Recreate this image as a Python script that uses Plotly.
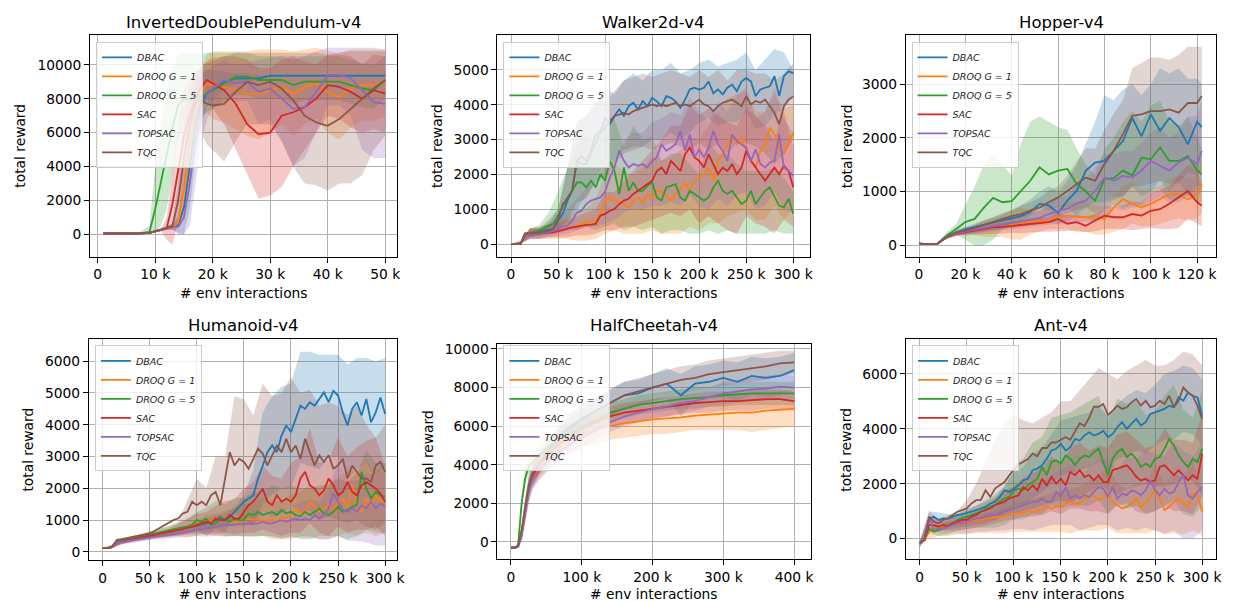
import plotly.graph_objects as go

W, H = 1235, 602
FONT = "DejaVu Sans"

SERIES_NAMES = ["DBAC", "DROQ <i>G</i> = 1", "DROQ <i>G</i> = 5", "SAC", "TOPSAC", "TQC"]
SERIES_COLORS = ["#1f77b4", "#ff7f0e", "#2ca02c", "#d62728", "#9467bd", "#8c564b"]
FILL_ALPHA = 0.25

# ---------------- InvertedDoublePendulum-v4 (x in thousands) ----------------
idp_x_k = [1, 3, 5, 7, 9, 10, 11, 12, 13, 14, 15, 16, 17, 18, 19, 20, 22, 24, 26, 28, 30, 32, 34, 36, 38, 40, 42, 44, 46, 48, 50]
idp_dbac = [60, 50, 50, 60, 100, 180, 280, 380, 450, 550, 1600, 4000, 6500, 7800, 8300, 8600, 9000, 9200, 9200, 9200, 9350, 9350, 9350, 9350, 9350, 9350, 9350, 9350, 9350, 9350, 9350]
idp_dbac_lo = [40, 30, 30, 40, 70, 120, 200, 280, 300, 100, 0, 1500, 4500, 6500, 7500, 7900, 8500, 8900, 9000, 9100, 9350, 9350, 9350, 9350, 9350, 9350, 9350, 9350, 9350, 9350, 9350]
idp_dbac_hi = [80, 70, 70, 80, 130, 240, 360, 480, 600, 1000, 3200, 6500, 8500, 9500, 9700, 9700, 9600, 9500, 9500, 9400, 9350, 9350, 9350, 9350, 9350, 9350, 9350, 9350, 9350, 9350, 9350]
idp_droq1 = [60, 50, 50, 60, 100, 180, 280, 380, 450, 700, 2600, 5000, 7200, 8300, 8900, 8800, 8700, 8500, 8300, 8300, 8500, 8700, 8300, 8700, 8900, 8400, 8100, 8600, 8800, 8800, 8900]
idp_droq1_lo = [40, 30, 30, 40, 70, 120, 200, 280, 300, 300, 1000, 2500, 5000, 6800, 7200, 6800, 6600, 6200, 5800, 5600, 6000, 6500, 5800, 6500, 6800, 6000, 5600, 6300, 6700, 6700, 6900]
idp_droq1_hi = [80, 70, 70, 80, 130, 240, 360, 480, 600, 1100, 4200, 7500, 9400, 9900, 10600, 10800, 10800, 10800, 10800, 10900, 10900, 10900, 10800, 10900, 11000, 10800, 10700, 10900, 10900, 10900, 10900]
idp_droq5 = [60, 50, 50, 60, 150, 1500, 3100, 4800, 6300, 7600, 8000, 7950, 8200, 8100, 8300, 8500, 8900, 9300, 9300, 9100, 9100, 9100, 8800, 9000, 9000, 9000, 9000, 8800, 8600, 8500, 9100]
idp_droq5_lo = [40, 30, 30, 40, 80, 200, 500, 1500, 3500, 5600, 6500, 6300, 6800, 7000, 7200, 7400, 7800, 8200, 8200, 8000, 8000, 8000, 7700, 7900, 7900, 7900, 7900, 7700, 7500, 7400, 8000]
idp_droq5_hi = [80, 70, 70, 80, 500, 4000, 6500, 8500, 9800, 10600, 10700, 10700, 10700, 10600, 10700, 10700, 10700, 10700, 10700, 10500, 10500, 10500, 10300, 10500, 10500, 10500, 10500, 10300, 10100, 10000, 10500]
idp_sac = [60, 50, 50, 60, 100, 180, 280, 380, 1800, 3800, 5800, 7000, 8000, 8700, 9100, 8900, 8500, 7700, 6500, 5900, 6000, 7000, 7200, 7500, 8000, 8800, 8700, 8400, 8000, 8500, 8300]
idp_sac_lo = [40, 30, 30, 40, 70, 120, 200, -300, -600, 800, 3000, 5000, 6800, 7500, 8000, 7400, 6500, 5000, 3600, 2100, 2300, 2800, 4000, 5000, 6000, 7000, 6800, 6300, 6000, 6200, 6000]
idp_sac_hi = [80, 70, 70, 80, 130, 240, 360, 1000, 3600, 6500, 8600, 9000, 9300, 9900, 10200, 10400, 10500, 10500, 10300, 9800, 9800, 10300, 10500, 10200, 10000, 10600, 10600, 10500, 10000, 10600, 10500]
idp_topsac = [60, 50, 50, 60, 100, 180, 280, 380, 450, 450, 1000, 3000, 5500, 7500, 8200, 8600, 9100, 8900, 9000, 8400, 8600, 8000, 7400, 7500, 8400, 9400, 9400, 9200, 8500, 7800, 7700]
idp_topsac_lo = [40, 30, 30, 40, 70, 120, 200, 280, 300, 0, 0, 500, 3000, 5500, 6800, 7400, 8000, 7800, 7900, 6500, 6800, 5500, 4000, 4500, 6000, 7600, 7600, 7000, 5000, 4500, 4500]
idp_topsac_hi = [80, 70, 70, 80, 130, 240, 360, 480, 600, 800, 2200, 5500, 8000, 9500, 9700, 9900, 10300, 10000, 10100, 10300, 10400, 10500, 10500, 10500, 10800, 11000, 11000, 11000, 11000, 11000, 10900]
idp_tqc = [60, 50, 50, 60, 100, 180, 280, 380, 500, 2000, 4500, 6500, 7800, 7900, 7700, 7600, 7700, 8400, 9000, 8800, 9000, 8600, 7900, 7000, 6600, 6400, 6800, 7400, 8000, 8600, 9100]
idp_tqc_lo = [40, 30, 30, 40, 70, 120, 200, 280, 300, 800, 2500, 4500, 6000, 6000, 5300, 5000, 4300, 5500, 6500, 6500, 6500, 5500, 4000, 3000, 2900, 2600, 3000, 3000, 3500, 5000, 5800]
idp_tqc_hi = [80, 70, 70, 80, 130, 240, 360, 480, 700, 3200, 6500, 8500, 9600, 9800, 10100, 10200, 10500, 10700, 10700, 10700, 10700, 10700, 10700, 10700, 10700, 10600, 10700, 10800, 10800, 10800, 10800]

# ---------------- Walker2d-v4 ----------------
# band x (10 k steps) and mean-curve x (5 k steps)
walker_x_k = [0, 10, 20, 30, 40, 50, 60, 70, 80, 90, 100, 110, 120, 130, 140, 150, 160, 170, 180, 190, 200, 210, 220, 230, 240, 250, 260, 270, 280, 290, 300]
walker_xm_k = [0, 5, 10, 15, 20, 25, 30, 35, 40, 45, 50, 55, 60, 65, 70, 75, 80, 85, 90, 95, 100, 105, 110, 115, 120, 125, 130, 135, 140, 145, 150, 155, 160, 165, 170, 175, 180, 185, 190, 195, 200, 205, 210, 215, 220, 225, 230, 235, 240, 245, 250, 255, 260, 265, 270, 275, 280, 285, 290, 295, 300]
walker_dbac = [0, 0, 0, 300, 320, 350, 350, 380, 400, 430, 680, 870, 1250, 1530, 2390, 2300, 2300, 2600, 2900, 3200, 3630, 3440, 3680, 3870, 3680, 3960, 4060, 3870, 4110, 3960, 4200, 4100, 3960, 4250, 4200, 4100, 3910, 4150, 4440, 4490, 4440, 4490, 4670, 4330, 4440, 4300, 4490, 4580, 4390, 4670, 4770, 4670, 4250, 4440, 4490, 4530, 4820, 4250, 4820, 4960, 4910]
walker_dbac_lo = [0, 20, 200, 250, 300, 400, 600, 1000, 1400, 1800, 2400, 2400, 2700, 2800, 2800, 3000, 3000, 3200, 3000, 3200, 3500, 3600, 3400, 3500, 3500, 3800, 3300, 3400, 3700, 3900, 4200]
walker_dbac_hi = [0, 80, 450, 450, 600, 1000, 2200, 3500, 3700, 4000, 4500, 4300, 4700, 4900, 4700, 5000, 5000, 5200, 4900, 5000, 5200, 5300, 5100, 5200, 5300, 5500, 5000, 5300, 5600, 5500, 5000]
walker_droq1 = [0, 0, 0, 300, 300, 310, 320, 330, 340, 360, 380, 400, 420, 480, 530, 580, 630, 650, 680, 870, 1250, 1340, 1250, 1200, 1150, 1060, 1250, 1340, 1200, 1440, 1340, 1530, 1500, 1400, 1250, 1440, 1580, 1770, 1530, 1820, 1910, 2010, 2200, 1820, 2390, 2580, 2870, 3150, 2870, 3050, 2680, 2390, 2200, 2680, 2870, 3340, 3150, 2770, 2580, 2870, 3200]
walker_droq1_lo = [0, 20, 150, 150, 150, 150, 150, 100, 100, 150, 300, 400, 300, 300, 300, 400, 300, 300, 300, 500, 400, 600, 600, 800, 900, 1000, 700, 700, 1100, 700, 1000]
walker_droq1_hi = [0, 80, 450, 450, 550, 700, 800, 900, 1000, 1300, 2000, 2300, 2100, 2000, 2200, 2500, 2400, 2500, 2700, 3100, 3000, 3400, 3800, 4200, 4300, 4400, 3800, 3800, 4300, 3900, 4000]
walker_droq5 = [0, 0, 0, 300, 310, 350, 390, 440, 530, 580, 820, 1060, 1340, 1530, 1770, 1770, 1630, 1820, 1630, 2010, 1820, 2390, 2100, 1440, 2200, 1530, 1770, 1530, 1530, 1680, 1770, 1340, 1250, 1630, 1680, 1720, 1340, 1250, 1530, 1440, 1340, 1250, 1340, 1630, 1820, 1530, 1440, 1530, 1340, 1150, 1250, 1530, 1150, 1340, 1530, 1630, 1340, 1100, 1060, 1300, 870]
walker_droq5_lo = [0, 20, 200, 200, 250, 300, 400, 400, 500, 400, 500, 600, 400, 500, 400, 500, 300, 400, 400, 300, 300, 400, 300, 400, 300, 300, 300, 300, 400, 300, 300]
walker_droq5_hi = [0, 80, 450, 550, 900, 1500, 2200, 2800, 3200, 2800, 3400, 3600, 2800, 3400, 3000, 3100, 2400, 2600, 2600, 2300, 2000, 2900, 2600, 2600, 2300, 2100, 2100, 2100, 2200, 1900, 1500]
walker_sac = [0, 0, 0, 250, 270, 290, 300, 320, 330, 340, 380, 420, 440, 480, 500, 530, 550, 560, 580, 820, 870, 960, 1010, 1150, 1250, 1300, 1440, 1530, 1630, 1720, 1820, 2100, 2200, 2010, 2390, 2250, 2100, 2580, 2770, 2490, 2390, 2200, 2580, 2300, 2010, 2200, 2100, 2300, 2010, 2200, 2680, 2390, 2200, 2010, 1820, 2010, 2200, 2010, 2250, 2100, 1630]
walker_sac_lo = [0, 20, 150, 150, 200, 200, 200, 250, 250, 300, 400, 400, 500, 500, 600, 700, 800, 900, 800, 1000, 600, 800, 600, 400, 300, 800, 600, 500, 300, 700, 500]
walker_sac_hi = [0, 80, 450, 500, 550, 600, 700, 800, 900, 1000, 1500, 1500, 1800, 2100, 2400, 2700, 3000, 3400, 3400, 4000, 3700, 3900, 3700, 3500, 3400, 3900, 3700, 3400, 3000, 3800, 2800]
walker_topsac = [0, 0, 0, 250, 260, 280, 300, 320, 350, 380, 440, 500, 530, 680, 910, 960, 1150, 1250, 1300, 1340, 1500, 1910, 2200, 2680, 2390, 2200, 2300, 2250, 2300, 2200, 2390, 2490, 2870, 2680, 2770, 2870, 3250, 2680, 3150, 2490, 2720, 2490, 2770, 3250, 2870, 2680, 2390, 3150, 2960, 2870, 2770, 2390, 2720, 2300, 2200, 2340, 2390, 3150, 2200, 2100, 1960]
walker_topsac_lo = [0, 20, 150, 150, 200, 250, 300, 400, 500, 500, 600, 700, 900, 1000, 1000, 1100, 1100, 1200, 1100, 1400, 1100, 1000, 1300, 1100, 1400, 1500, 1000, 1100, 1500, 1000, 900]
walker_topsac_hi = [0, 80, 350, 450, 600, 800, 1000, 1300, 1600, 1800, 2300, 2400, 3000, 3200, 3200, 3500, 3600, 3800, 3700, 4200, 3800, 3500, 4100, 3800, 4300, 4500, 3600, 3800, 4500, 3600, 3200]
walker_tqc = [0, 0, 0, 300, 300, 320, 330, 350, 380, 450, 700, 1150, 1300, 1530, 2390, 2530, 2390, 2680, 3150, 3250, 3340, 3530, 3680, 3720, 3770, 3720, 3820, 3870, 3910, 3960, 4010, 3960, 4010, 3960, 4010, 4060, 3960, 4010, 3960, 4060, 4150, 4010, 3960, 3820, 3960, 4060, 4110, 4150, 4060, 3960, 4250, 4010, 4110, 4060, 4150, 3960, 3770, 3440, 3960, 4150, 4250]
walker_tqc_lo = [0, 20, 200, 250, 300, 400, 700, 1200, 1300, 1800, 1900, 2300, 2600, 2700, 2800, 2700, 2800, 2900, 2800, 2700, 2900, 2700, 2900, 2600, 2900, 2900, 2800, 2600, 2300, 2600, 3000]
walker_tqc_hi = [0, 80, 450, 450, 700, 1000, 2200, 3500, 3700, 4100, 4100, 4400, 4700, 4800, 4900, 4800, 4900, 5000, 4900, 4800, 5000, 4800, 5000, 4700, 5000, 5000, 4900, 4900, 4700, 4900, 5200]

# ---------------- Hopper-v4 ----------------
hopper_x_k = [0, 4, 8, 12, 16, 20, 24, 28, 32, 36, 40, 44, 48, 52, 56, 60, 64, 68, 72, 76, 80, 84, 88, 92, 96, 100, 104, 108, 112, 116, 120, 122]
hopper_dbac = [30, 20, 30, 150, 230, 300, 340, 380, 420, 460, 500, 540, 620, 770, 740, 600, 830, 1010, 1390, 1540, 1570, 1760, 1940, 2370, 2030, 2440, 2130, 2370, 2200, 1880, 2300, 2200]
hopper_dbac_lo = [20, 10, 20, 120, 180, 200, 220, 250, 280, 300, 320, 350, 380, 400, 420, 400, 450, 550, 700, 800, 800, 900, 900, 1100, 900, 1000, 1200, 1000, 1200, 900, 1100, 1100]
hopper_dbac_hi = [40, 30, 40, 180, 280, 320, 380, 450, 520, 600, 650, 750, 850, 1000, 1100, 1000, 1200, 1500, 1900, 2300, 2800, 2700, 2900, 3000, 2800, 3000, 3300, 3200, 3300, 3100, 3100, 3000]
hopper_droq1 = [30, 20, 30, 150, 220, 250, 280, 300, 320, 350, 380, 410, 430, 450, 460, 520, 550, 530, 520, 540, 490, 700, 860, 770, 700, 770, 860, 950, 950, 850, 950, 1140]
hopper_droq1_lo = [20, 10, 20, 120, 180, 200, 200, 150, 150, 150, 100, 100, 200, 250, 300, 300, 300, 250, 250, 200, 200, 250, 300, 400, 350, 350, 400, 450, 500, 450, 500, 600]
hopper_droq1_hi = [40, 30, 40, 180, 260, 300, 360, 450, 500, 550, 650, 700, 640, 650, 700, 740, 800, 790, 800, 760, 700, 950, 1100, 1200, 1050, 1050, 1100, 1250, 1300, 1250, 1300, 1600]
hopper_droq5 = [30, 20, 30, 180, 300, 430, 490, 700, 880, 800, 820, 1010, 1200, 1450, 1320, 1390, 1420, 1140, 1000, 830, 1230, 1250, 1390, 1300, 1630, 1600, 1820, 1570, 1570, 1660, 1400, 1320]
hopper_droq5_lo = [20, 10, 20, 150, 200, 100, 0, 0, 100, 300, 350, 450, 550, 700, 650, 700, 700, 550, 500, 450, 650, 750, 700, 750, 750, 1000, 1050, 850, 850, 950, 800, 800]
hopper_droq5_hi = [40, 30, 40, 250, 400, 750, 1100, 1500, 1700, 1500, 1300, 1900, 2300, 2400, 2300, 2200, 2150, 1800, 1500, 1300, 1800, 2000, 2300, 2500, 2300, 2600, 2700, 2300, 2200, 2400, 2000, 1800]
hopper_sac = [30, 20, 30, 150, 210, 240, 270, 300, 330, 340, 360, 380, 400, 420, 430, 490, 400, 430, 360, 460, 550, 520, 520, 580, 550, 640, 670, 770, 890, 1010, 800, 740]
hopper_sac_lo = [20, 10, 20, 120, 170, 190, 200, 200, 210, 220, 230, 220, 230, 250, 250, 250, 260, 270, 240, 260, 300, 300, 300, 280, 300, 320, 300, 300, 320, 500, 400, 350]
hopper_sac_hi = [40, 30, 40, 180, 250, 290, 320, 360, 390, 420, 430, 440, 470, 510, 510, 620, 540, 570, 520, 580, 760, 700, 740, 820, 800, 980, 1040, 1100, 1300, 1500, 1400, 1100]
hopper_topsac = [30, 20, 30, 150, 220, 260, 290, 320, 350, 380, 420, 450, 480, 510, 580, 640, 680, 780, 830, 1010, 1260, 1200, 1290, 1260, 1390, 1570, 1480, 1390, 1540, 1630, 1510, 1760]
hopper_topsac_lo = [20, 10, 20, 120, 180, 210, 230, 250, 270, 290, 310, 330, 350, 360, 380, 400, 420, 430, 440, 450, 500, 700, 650, 700, 700, 800, 900, 800, 800, 900, 900, 1000]
hopper_topsac_hi = [40, 30, 40, 180, 260, 310, 350, 390, 430, 470, 530, 570, 610, 640, 780, 880, 940, 1100, 1200, 1450, 1700, 1700, 1750, 1750, 1900, 2100, 2200, 2000, 2100, 2400, 2400, 2700]
hopper_tqc = [30, 20, 30, 150, 240, 270, 320, 380, 440, 490, 540, 580, 650, 700, 800, 890, 1010, 1140, 1260, 1200, 1510, 1760, 2070, 2410, 2440, 2500, 2500, 2530, 2470, 2650, 2650, 2780]
hopper_tqc_lo = [20, 10, 20, 120, 190, 220, 240, 270, 290, 320, 350, 380, 400, 420, 480, 500, 600, 650, 700, 600, 750, 850, 900, 1100, 1100, 1150, 1200, 1150, 1150, 1350, 1300, 1400]
hopper_tqc_hi = [40, 30, 40, 180, 290, 340, 400, 470, 510, 580, 650, 720, 800, 880, 1020, 1100, 1300, 1550, 1800, 1800, 2150, 2450, 2700, 3300, 3400, 3500, 3500, 3450, 3550, 3700, 3700, 3700]

# ---------------- Humanoid-v4 ----------------
humanoid_x_k = [0, 10, 20, 30, 40, 50, 60, 70, 80, 90, 100, 110, 120, 130, 140, 150, 160, 170, 180, 190, 200, 210, 220, 230, 240, 250, 260, 270, 280, 290, 300]
humanoid_xm_k = [0, 5, 10, 15, 20, 25, 30, 35, 40, 45, 50, 55, 60, 65, 70, 75, 80, 85, 90, 95, 100, 105, 110, 115, 120, 125, 130, 135, 140, 145, 150, 155, 160, 165, 170, 175, 180, 185, 190, 195, 200, 205, 210, 215, 220, 225, 230, 235, 240, 245, 250, 255, 260, 265, 270, 275, 280, 285, 290, 295, 300]
humanoid_dbac = [120, 120, 150, 300, 330, 360, 400, 430, 460, 490, 520, 550, 580, 610, 640, 670, 700, 730, 760, 790, 820, 860, 900, 950, 1000, 1100, 1000, 1100, 1260, 1420, 1580, 1680, 1780, 2300, 2720, 3140, 3350, 3140, 3660, 3980, 3770, 4190, 4600, 4500, 4710, 4600, 4810, 5020, 4710, 5070, 4920, 4390, 3980, 4500, 4710, 4290, 4810, 4080, 4390, 4860, 4340]
humanoid_dbac_lo = [100, 120, 250, 320, 380, 420, 460, 500, 540, 580, 650, 680, 750, 780, 800, 800, 900, 1500, 1800, 2000, 2000, 2800, 2700, 2600, 3000, 3000, 2300, 2600, 2800, 2400, 2700]
humanoid_dbac_hi = [140, 180, 350, 440, 520, 580, 640, 700, 760, 820, 950, 1020, 1150, 1220, 1400, 1800, 2600, 4400, 4900, 5200, 5300, 6300, 6300, 6200, 6200, 6200, 5900, 6100, 6100, 6000, 6100]
humanoid_droq1 = [120, 120, 150, 300, 320, 350, 380, 410, 440, 470, 500, 530, 560, 590, 620, 650, 690, 720, 760, 800, 950, 900, 1000, 950, 1050, 1000, 1000, 950, 950, 900, 1000, 1050, 1000, 1050, 1000, 950, 1050, 950, 1110, 1050, 1160, 1370, 1210, 1260, 1580, 1420, 1260, 1370, 1470, 1260, 1580, 1680, 1370, 2100, 1470, 1260, 1680, 1470, 1780, 1580, 1580]
humanoid_droq1_lo = [100, 120, 250, 320, 380, 420, 450, 480, 500, 450, 500, 550, 500, 500, 500, 500, 450, 500, 400, 400, 400, 500, 500, 400, 400, 500, 600, 500, 600, 500, 600]
humanoid_droq1_hi = [140, 180, 350, 440, 520, 580, 650, 720, 800, 850, 1000, 1150, 1200, 1300, 1400, 1500, 1550, 1700, 1600, 1600, 1800, 1900, 2100, 2000, 2200, 2300, 2600, 2500, 2900, 2500, 2800]
humanoid_droq5 = [120, 120, 180, 350, 380, 400, 430, 450, 480, 510, 540, 570, 600, 630, 660, 690, 720, 760, 800, 850, 1000, 950, 1050, 850, 900, 1050, 1000, 950, 1050, 1000, 1000, 1210, 1160, 1260, 1160, 1210, 1260, 1160, 1320, 1210, 1260, 1160, 1120, 1260, 1160, 1260, 1370, 1210, 1160, 1260, 1420, 1260, 1320, 1420, 1470, 2520, 1990, 1680, 1890, 1780, 1730]
humanoid_droq5_lo = [100, 150, 300, 350, 420, 450, 480, 500, 500, 550, 550, 600, 600, 500, 500, 500, 500, 500, 500, 400, 500, 400, 400, 500, 500, 500, 400, 500, 700, 600, 600]
humanoid_droq5_hi = [140, 210, 400, 490, 580, 650, 720, 800, 900, 1050, 1250, 1400, 1600, 1500, 1700, 1700, 1900, 1900, 2100, 2000, 2100, 2000, 2000, 2100, 2100, 2300, 2200, 2500, 3200, 2800, 2800]
humanoid_sac = [120, 120, 150, 280, 320, 350, 370, 400, 430, 470, 500, 530, 560, 590, 620, 650, 690, 720, 760, 790, 850, 900, 950, 900, 1050, 1000, 1000, 1160, 1050, 1050, 1260, 1470, 1580, 1780, 1990, 1580, 1470, 1780, 1580, 1680, 1580, 1780, 2310, 2520, 2100, 1990, 1780, 1940, 2310, 2100, 1780, 1890, 2200, 1890, 1780, 2100, 2200, 2100, 1990, 1840, 1580]
humanoid_sac_lo = [100, 120, 250, 300, 350, 400, 450, 480, 520, 550, 600, 550, 550, 600, 550, 600, 600, 700, 600, 500, 600, 600, 900, 600, 500, 800, 600, 700, 700, 800, 500]
humanoid_sac_hi = [140, 180, 350, 400, 490, 560, 650, 720, 880, 1050, 1200, 1250, 1450, 1600, 1650, 2000, 2200, 2700, 2400, 2300, 2800, 3000, 3900, 2800, 2900, 3600, 3000, 3300, 3500, 3600, 2700]
humanoid_topsac = [120, 120, 150, 280, 310, 330, 350, 370, 400, 430, 450, 470, 500, 520, 540, 560, 590, 610, 630, 660, 690, 710, 740, 760, 790, 820, 850, 850, 850, 880, 900, 880, 900, 900, 950, 900, 900, 950, 1000, 950, 1000, 1050, 1000, 1050, 1000, 1160, 1050, 1160, 1370, 1840, 1580, 1320, 1260, 1370, 1260, 1470, 1370, 1580, 1370, 1520, 1420]
humanoid_topsac_lo = [100, 120, 230, 280, 330, 370, 400, 430, 460, 480, 500, 480, 500, 480, 500, 480, 500, 520, 450, 450, 450, 450, 450, 400, 400, 500, 350, 350, 300, 200, 200]
humanoid_topsac_hi = [140, 180, 330, 380, 470, 530, 600, 670, 740, 820, 900, 920, 1000, 1020, 1100, 1120, 1200, 1280, 1250, 1350, 1450, 1550, 1650, 1600, 2000, 2900, 2250, 2250, 2500, 2400, 2600]
humanoid_tqc = [120, 120, 150, 380, 400, 430, 460, 490, 520, 550, 580, 660, 740, 820, 900, 1000, 1050, 1210, 1260, 1580, 1470, 1580, 1470, 1780, 1890, 1470, 2310, 3140, 2720, 2930, 2830, 2620, 2930, 3250, 3090, 2720, 3040, 3350, 3140, 3560, 3140, 3350, 2930, 3560, 3140, 2720, 3040, 2830, 3040, 2620, 2720, 2930, 2310, 2720, 2520, 2310, 2310, 2200, 2720, 2830, 2520]
humanoid_tqc_lo = [100, 120, 250, 320, 380, 450, 480, 500, 550, 600, 700, 500, 700, 600, 1200, 1000, 800, 1300, 1100, 1200, 1500, 1200, 1300, 1000, 1100, 1000, 900, 1000, 800, 700, 900]
humanoid_tqc_hi = [140, 180, 350, 440, 520, 650, 720, 800, 950, 1600, 2300, 2000, 3000, 3000, 4900, 4800, 4300, 5300, 4900, 5000, 5500, 5000, 5100, 4600, 4700, 4600, 4300, 4600, 4000, 3600, 4000]

# ---------------- HalfCheetah-v4 ----------------
cheetah_x_k = [0, 5, 10, 15, 20, 25, 30, 40, 50, 60, 70, 80, 100, 120, 140, 160, 180, 200, 220, 240, 260, 280, 300, 320, 340, 360, 380, 400]
cheetah_dbac = [-300, -300, -250, 300, 1500, 2700, 3300, 4000, 4500, 5000, 5400, 5800, 6300, 6800, 7200, 7600, 7700, 8000, 8200, 7600, 8200, 8300, 8500, 8300, 8600, 8500, 8600, 8900]
cheetah_dbac_lo = [-350, -350, -300, 0, 900, 2000, 2700, 3500, 4000, 4500, 4800, 5200, 5700, 6200, 6500, 6900, 7000, 7300, 7400, 6500, 7300, 7400, 7500, 7300, 7600, 7500, 7600, 7900]
cheetah_dbac_hi = [-250, -250, -200, 600, 2100, 3400, 3900, 4500, 5000, 5500, 6000, 6400, 6900, 7400, 7900, 8300, 8400, 8700, 9000, 8700, 9100, 9200, 9400, 9300, 9600, 9500, 9600, 9800]
cheetah_droq1 = [-300, -300, -250, 400, 1600, 2700, 3300, 3900, 4300, 4700, 5000, 5300, 5600, 5800, 6000, 6150, 6250, 6350, 6400, 6450, 6550, 6600, 6650, 6700, 6700, 6800, 6850, 6900]
cheetah_droq1_lo = [-350, -350, -300, 100, 1000, 2100, 2800, 3300, 3700, 4100, 4400, 4600, 4900, 5100, 5300, 5400, 5500, 5600, 5600, 5700, 5800, 5800, 5800, 5800, 5700, 5800, 5900, 6000]
cheetah_droq1_hi = [-250, -250, -200, 700, 2200, 3300, 3800, 4500, 4900, 5300, 5600, 6000, 6300, 6500, 6700, 6900, 7000, 7100, 7200, 7200, 7300, 7400, 7500, 7600, 7700, 7700, 7800, 7900]
cheetah_droq5 = [-300, -300, -200, 2000, 3300, 3900, 4100, 4500, 4800, 5100, 5400, 5600, 6000, 6300, 6700, 6900, 7100, 7200, 7300, 7400, 7450, 7500, 7600, 7650, 7700, 7700, 7700, 7700]
cheetah_droq5_lo = [-350, -350, -250, 1500, 2900, 3500, 3700, 4100, 4400, 4700, 5000, 5200, 5500, 5800, 6200, 6400, 6600, 6700, 6800, 6900, 6900, 7000, 7000, 7100, 7100, 7100, 7100, 7100]
cheetah_droq5_hi = [-250, -250, -150, 2500, 3700, 4300, 4500, 4900, 5200, 5500, 5800, 6000, 6500, 6800, 7200, 7400, 7600, 7700, 7800, 7900, 8000, 8000, 8200, 8200, 8300, 8300, 8300, 8300]
cheetah_sac = [-300, -300, -200, 500, 1700, 2800, 3400, 4000, 4400, 4800, 5100, 5400, 5900, 6200, 6500, 6700, 6800, 6900, 7000, 7100, 7200, 7250, 7300, 7300, 7350, 7400, 7400, 7300]
cheetah_sac_lo = [-350, -350, -250, 200, 1200, 2300, 2900, 3500, 3900, 4300, 4600, 4900, 5400, 5700, 6000, 6200, 6300, 6400, 6500, 6600, 6700, 6700, 6800, 6800, 6800, 6900, 6900, 6800]
cheetah_sac_hi = [-250, -250, -150, 800, 2200, 3300, 3900, 4500, 4900, 5300, 5600, 5900, 6400, 6700, 7000, 7200, 7300, 7400, 7500, 7600, 7700, 7800, 7800, 7800, 7900, 7900, 7900, 7800]
cheetah_topsac = [-300, -300, -250, 400, 1500, 2600, 3200, 3700, 4100, 4400, 4700, 5000, 5400, 5800, 6200, 6500, 6700, 6900, 7000, 7200, 7300, 7500, 7700, 7800, 7900, 7950, 8050, 8000]
cheetah_topsac_lo = [-350, -350, -300, 100, 1000, 2000, 2700, 3200, 3600, 3900, 4200, 4500, 4900, 5300, 5700, 6000, 6200, 6400, 6500, 6700, 6800, 7000, 7100, 7200, 7300, 7300, 7400, 7400]
cheetah_topsac_hi = [-250, -250, -200, 700, 2000, 3200, 3700, 4200, 4600, 4900, 5200, 5500, 5900, 6300, 6700, 7000, 7200, 7400, 7500, 7700, 7800, 8000, 8300, 8400, 8500, 8600, 8700, 8600]
cheetah_tqc = [-300, -300, -200, 600, 1800, 2900, 3500, 4100, 4600, 5100, 5500, 5900, 6400, 6800, 7200, 7600, 7800, 8000, 8200, 8400, 8500, 8700, 8800, 8900, 9000, 9100, 9250, 9300]
cheetah_tqc_lo = [-350, -350, -250, 300, 1300, 2400, 3000, 3600, 4100, 4500, 4900, 5200, 5700, 6100, 6500, 6900, 7100, 7300, 7500, 7700, 7800, 8000, 8100, 8200, 8300, 8400, 8600, 8700]
cheetah_tqc_hi = [-250, -250, -150, 900, 2300, 3400, 4000, 4600, 5100, 5700, 6100, 6600, 7100, 7500, 7900, 8300, 8500, 8700, 8900, 9100, 9200, 9400, 9500, 9600, 9700, 9800, 9900, 9900]

# ---------------- Ant-v4 ----------------
ant_x_k = [0, 10, 20, 30, 40, 50, 60, 70, 80, 90, 100, 110, 120, 130, 140, 150, 160, 170, 180, 190, 200, 210, 220, 230, 240, 250, 260, 270, 280, 290, 300]
ant_xm_k = [0, 5, 10, 15, 20, 25, 30, 35, 40, 45, 50, 55, 60, 65, 70, 75, 80, 85, 90, 95, 100, 105, 110, 115, 120, 125, 130, 135, 140, 145, 150, 155, 160, 165, 170, 175, 180, 185, 190, 195, 200, 205, 210, 215, 220, 225, 230, 235, 240, 245, 250, 255, 260, 265, 270, 275, 280, 285, 290, 295, 300]
ant_dbac = [-170, -50, 700, 800, 680, 740, 720, 800, 860, 880, 920, 980, 1040, 1100, 1160, 1280, 1340, 1520, 1760, 1700, 1820, 1940, 2120, 2180, 2490, 2550, 2670, 2910, 3210, 3270, 3450, 3210, 3330, 3630, 3570, 3750, 3870, 3750, 3810, 3930, 3690, 3810, 4060, 4240, 4000, 4180, 4360, 4120, 4240, 4540, 4600, 4660, 4720, 4840, 4780, 5140, 5020, 5320, 5200, 5140, 4480]
ant_dbac_lo = [-300, 600, 550, 500, 500, 550, 600, 650, 700, 900, 1200, 1200, 1500, 1700, 2000, 2300, 2400, 2500, 2600, 2800, 2500, 2900, 3000, 3200, 3100, 3400, 3600, 3600, 3900, 3800, 3400]
ant_dbac_hi = [-100, 1000, 950, 900, 900, 1050, 1200, 1350, 1500, 1900, 2400, 2600, 3100, 3300, 3800, 4300, 4400, 4500, 4600, 4800, 4500, 4900, 5200, 5400, 5300, 5600, 6000, 6100, 6300, 6200, 5800]
ant_droq1 = [-170, -50, 250, 370, 370, 430, 490, 490, 560, 560, 620, 620, 680, 680, 740, 740, 780, 780, 820, 860, 900, 900, 950, 1000, 960, 1000, 1060, 1180, 1080, 1200, 1150, 1280, 1350, 1250, 1300, 1460, 1520, 1580, 1400, 1520, 1640, 1340, 1220, 1100, 1160, 1280, 1460, 1160, 1280, 1520, 1760, 1460, 1040, 1160, 1340, 1460, 1280, 1160, 1640, 1580, 980]
ant_droq1_lo = [-300, 0, 100, 100, 150, 150, 200, 200, 200, 200, 250, 250, 250, 250, 250, 250, 200, 300, 300, 300, 400, 200, 200, 200, 200, 300, 150, 200, 150, 300, 100]
ant_droq1_hi = [-100, 400, 600, 600, 650, 750, 800, 900, 1000, 1100, 1250, 1350, 1450, 1550, 1650, 1750, 1800, 1900, 2100, 2300, 2600, 2000, 1800, 2000, 2000, 2700, 2000, 2400, 2200, 2900, 1700]
ant_droq5 = [-170, -50, 370, 250, 310, 370, 490, 560, 680, 740, 800, 860, 920, 980, 1100, 1160, 1220, 1340, 1460, 1520, 1760, 1820, 1760, 1940, 2060, 2180, 2610, 2310, 2790, 2850, 2730, 3030, 2910, 2670, 2910, 3030, 2970, 3150, 3270, 2790, 2310, 2910, 3150, 3270, 2970, 3090, 2910, 2610, 2730, 2610, 2910, 2970, 3270, 3630, 3390, 3030, 2790, 2610, 2910, 2790, 3270]
ant_droq5_lo = [-300, 200, 100, 150, 300, 350, 400, 400, 400, 500, 700, 700, 900, 900, 1200, 1100, 1200, 1200, 1200, 1400, 900, 1300, 1100, 1200, 900, 1000, 1200, 1400, 900, 800, 1200]
ant_droq5_hi = [-100, 600, 500, 650, 900, 1050, 1200, 1400, 1600, 1900, 2700, 2900, 3500, 3700, 4400, 4500, 4600, 4800, 5000, 5200, 4300, 5100, 4900, 5000, 4500, 4600, 5200, 5600, 4700, 4400, 5400]
ant_sac = [-170, -50, 490, 490, 430, 490, 460, 560, 620, 680, 680, 800, 860, 980, 1040, 1100, 1220, 1280, 1340, 1460, 1520, 1580, 1880, 1760, 1940, 1760, 2180, 1940, 2250, 2000, 2180, 1940, 2430, 2310, 2490, 2250, 2310, 2120, 2310, 2060, 2060, 2490, 2550, 2610, 2670, 2490, 2250, 2120, 2180, 2060, 2120, 2610, 2670, 2490, 2310, 2490, 2310, 2120, 2310, 2180, 3090]
ant_sac_lo = [-300, 400, 300, 300, 300, 350, 400, 450, 550, 650, 700, 800, 800, 850, 1000, 900, 1100, 1100, 1000, 1000, 900, 1200, 1300, 1000, 900, 1000, 1200, 1000, 1000, 900, 1500]
ant_sac_hi = [-100, 800, 700, 700, 800, 850, 1000, 1150, 1450, 1750, 1900, 2200, 2400, 2550, 3000, 2700, 3300, 3500, 3200, 3400, 3300, 3800, 3900, 3600, 3300, 3400, 4000, 3600, 3600, 3500, 4500]
ant_topsac = [-170, -50, 740, 310, 370, 370, 430, 490, 560, 560, 620, 680, 740, 740, 800, 860, 860, 920, 980, 1040, 1100, 1160, 1220, 1280, 1340, 1340, 1460, 1340, 1340, 1700, 1520, 1880, 1460, 1580, 1460, 1580, 1520, 1700, 1880, 1820, 1520, 1880, 1460, 1640, 1580, 1760, 1700, 1580, 1760, 2120, 1760, 1580, 1820, 1640, 1700, 2060, 2310, 1580, 1460, 1700, 1880]
ant_topsac_lo = [-300, 400, 200, 200, 200, 200, 250, 250, 300, 300, 350, 350, 300, 400, 500, 500, 500, 300, 400, 500, 500, 300, 400, 300, 400, 300, 200, 300, 0, 0, 300]
ant_topsac_hi = [-100, 800, 600, 600, 700, 800, 850, 950, 1100, 1300, 1450, 1650, 1700, 2000, 2300, 2500, 2700, 2300, 2600, 2900, 2900, 2500, 3000, 2900, 3200, 3100, 3000, 3500, 3200, 3000, 3500]
ant_tqc = [-170, -50, 800, 620, 560, 680, 740, 860, 980, 1040, 1100, 1280, 1400, 1400, 1760, 1520, 1820, 1940, 2060, 2300, 2500, 2700, 2800, 2900, 3100, 3000, 3300, 3300, 3500, 3500, 3600, 3700, 3600, 3900, 4200, 4100, 4400, 4800, 4800, 4900, 4500, 4660, 4840, 4720, 4780, 4960, 5080, 4840, 5020, 4780, 4840, 5020, 4900, 5200, 4780, 5020, 5500, 5320, 5200, 4840, 4360]
ant_tqc_lo = [-300, 600, 300, 350, 400, 450, 500, 550, 650, 800, 900, 1000, 1100, 1200, 1300, 1400, 1300, 1500, 1700, 1900, 1800, 1600, 1800, 1900, 2000, 1900, 1900, 2000, 2200, 2100, 1600]
ant_tqc_hi = [-100, 1000, 700, 850, 1000, 1400, 2000, 2800, 3600, 4200, 4500, 4300, 4200, 4400, 4600, 5000, 5000, 5400, 5800, 6200, 6000, 5800, 6100, 6300, 6500, 6300, 6300, 6500, 6800, 6700, 6300]

XTICK_10K = [0, 10000, 20000, 30000, 40000, 50000]
XTICK_10K_TXT = ["0", "10 k", "20 k", "30 k", "40 k", "50 k"]
XTICK_50K = [0, 50000, 100000, 150000, 200000, 250000, 300000]
XTICK_50K_TXT = ["0", "50 k", "100 k", "150 k", "200 k", "250 k", "300 k"]
XTICK_20K = [0, 20000, 40000, 60000, 80000, 100000, 120000]
XTICK_20K_TXT = ["0", "20 k", "40 k", "60 k", "80 k", "100 k", "120 k"]
XTICK_100K = [0, 100000, 200000, 300000, 400000]
XTICK_100K_TXT = ["0", "100 k", "200 k", "300 k", "400 k"]

PANELS = [
    dict(title="InvertedDoublePendulum-v4", x=idp_x_k, xm=idp_x_k,
         mean=[idp_dbac, idp_droq1, idp_droq5, idp_sac, idp_topsac, idp_tqc],
         lo=[idp_dbac_lo, idp_droq1_lo, idp_droq5_lo, idp_sac_lo, idp_topsac_lo, idp_tqc_lo],
         hi=[idp_dbac_hi, idp_droq1_hi, idp_droq5_hi, idp_sac_hi, idp_topsac_hi, idp_tqc_hi],
         px=(90.7, 399.5), py=(32, 255), xr=[-1320, 52040], yr=[-1307, 11760],
         xt=XTICK_10K, xtt=XTICK_10K_TXT, yt=[0, 2000, 4000, 6000, 8000, 10000],
         ylab_x=20, title_y=20, xlab_y=291.5, leg=(96.7, 39)),
    dict(title="Walker2d-v4", x=walker_x_k, xm=walker_xm_k,
         mean=[walker_dbac, walker_droq1, walker_droq5, walker_sac, walker_topsac, walker_tqc],
         lo=[walker_dbac_lo, walker_droq1_lo, walker_droq5_lo, walker_sac_lo, walker_topsac_lo, walker_tqc_lo],
         hi=[walker_dbac_hi, walker_droq1_hi, walker_droq5_hi, walker_sac_hi, walker_topsac_hi, walker_tqc_hi],
         px=(500.7, 815.5), py=(32, 255), xr=[-14400, 318000], yr=[-362, 6009],
         xt=XTICK_50K, xtt=XTICK_50K_TXT, yt=[0, 1000, 2000, 3000, 4000, 5000],
         ylab_x=440, title_y=20, xlab_y=291.5, leg=(506.7, 39)),
    dict(title="Hopper-v4", x=hopper_x_k, xm=hopper_x_k,
         mean=[hopper_dbac, hopper_droq1, hopper_droq5, hopper_sac, hopper_topsac, hopper_tqc],
         lo=[hopper_dbac_lo, hopper_droq1_lo, hopper_droq5_lo, hopper_sac_lo, hopper_topsac_lo, hopper_tqc_lo],
         hi=[hopper_dbac_hi, hopper_droq1_hi, hopper_droq5_hi, hopper_sac_hi, hopper_topsac_hi, hopper_tqc_hi],
         px=(911.7, 1224.3), py=(32, 255), xr=[-5700, 128300], yr=[-216, 3921],
         xt=XTICK_20K, xtt=XTICK_20K_TXT, yt=[0, 1000, 2000, 3000],
         ylab_x=852, title_y=20, xlab_y=291.5, leg=(917.5, 39)),
    dict(title="Humanoid-v4", x=humanoid_x_k, xm=humanoid_xm_k,
         mean=[humanoid_dbac, humanoid_droq1, humanoid_droq5, humanoid_sac, humanoid_topsac, humanoid_tqc],
         lo=[humanoid_dbac_lo, humanoid_droq1_lo, humanoid_droq5_lo, humanoid_sac_lo, humanoid_topsac_lo, humanoid_tqc_lo],
         hi=[humanoid_dbac_hi, humanoid_droq1_hi, humanoid_droq5_hi, humanoid_sac_hi, humanoid_topsac_hi, humanoid_tqc_hi],
         px=(89.5, 399.5), py=(338, 560), xr=[-14600, 312500], yr=[-261, 6689],
         xt=XTICK_50K, xtt=XTICK_50K_TXT, yt=[0, 1000, 2000, 3000, 4000, 5000, 6000],
         ylab_x=28, title_y=324, xlab_y=594, leg=(95.5, 344)),
    dict(title="HalfCheetah-v4", x=cheetah_x_k, xm=cheetah_x_k,
         mean=[cheetah_dbac, cheetah_droq1, cheetah_droq5, cheetah_sac, cheetah_topsac, cheetah_tqc],
         lo=[cheetah_dbac_lo, cheetah_droq1_lo, cheetah_droq5_lo, cheetah_sac_lo, cheetah_topsac_lo, cheetah_tqc_lo],
         hi=[cheetah_dbac_hi, cheetah_droq1_hi, cheetah_droq5_hi, cheetah_sac_hi, cheetah_topsac_hi, cheetah_tqc_hi],
         px=(500.7, 816), py=(343, 559), xr=[-19100, 423400], yr=[-893, 10241],
         xt=XTICK_100K, xtt=XTICK_100K_TXT, yt=[0, 2000, 4000, 6000, 8000, 10000],
         ylab_x=431, title_y=324, xlab_y=594, leg=(506.7, 344)),
    dict(title="Ant-v4", x=ant_x_k, xm=ant_xm_k,
         mean=[ant_dbac, ant_droq1, ant_droq5, ant_sac, ant_topsac, ant_tqc],
         lo=[ant_dbac_lo, ant_droq1_lo, ant_droq5_lo, ant_sac_lo, ant_topsac_lo, ant_tqc_lo],
         hi=[ant_dbac_hi, ant_droq1_hi, ant_droq5_hi, ant_sac_hi, ant_topsac_hi, ant_tqc_hi],
         px=(912, 1224), py=(338, 559), xr=[-14400, 314800], yr=[-749, 7255],
         xt=XTICK_50K, xtt=XTICK_50K_TXT, yt=[0, 2000, 4000, 6000],
         ylab_x=852, title_y=324, xlab_y=594, leg=(918, 344)),
]


def rgba(hexc, a):
    h = hexc.lstrip("#")
    r, g, b = int(h[0:2], 16), int(h[2:4], 16), int(h[4:6], 16)
    return f"rgba({r},{g},{b},{a})"


fig = go.Figure()
layout = dict(
    width=W, height=H, margin=dict(l=0, r=0, t=0, b=0),
    paper_bgcolor="white", plot_bgcolor="white",
    font=dict(family=FONT, color="black"),
    annotations=[], showlegend=True,
)

for i, p in enumerate(PANELS):
    n = i + 1
    sfx = "" if n == 1 else str(n)
    xa, ya = "x" + sfx, "y" + sfx
    leg = "legend" + sfx
    xs = [v * 1000 for v in p["x"]]
    xms = [v * 1000 for v in p["xm"]]
    for s in range(6):
        lo, hi = p["lo"][s], p["hi"][s]
        fig.add_trace(go.Scatter(
            x=xs + xs[::-1], y=hi + lo[::-1], fill="toself",
            fillcolor=rgba(SERIES_COLORS[s], FILL_ALPHA), line=dict(width=0),
            mode="lines", hoverinfo="skip", showlegend=False, xaxis=xa, yaxis=ya))
    for s in range(6):
        fig.add_trace(go.Scatter(
            x=xms, y=p["mean"][s], mode="lines", name=SERIES_NAMES[s],
            line=dict(color=SERIES_COLORS[s], width=1.8),
            legend=leg, xaxis=xa, yaxis=ya))

    x0, x1 = p["px"]
    yt0, yb0 = p["py"]
    dom_x = [x0 / W, x1 / W]
    dom_y = [1 - yb0 / H, 1 - yt0 / H]
    common = dict(showgrid=True, gridcolor="#b0b0b0", gridwidth=0.8, zeroline=False,
                  showline=True, linecolor="black", linewidth=1, mirror=True,
                  ticks="outside", ticklen=5, tickwidth=1, tickcolor="black",
                  tickfont=dict(family=FONT, size=13.8, color="black"))
    layout["xaxis" + sfx] = dict(domain=dom_x, range=p["xr"], anchor=ya,
                                 tickvals=p["xt"], ticktext=p["xtt"], **common)
    layout["yaxis" + sfx] = dict(domain=dom_y, range=p["yr"], anchor=xa,
                                 tickvals=p["yt"], ticktext=[str(v) for v in p["yt"]], **common)
    lx, ly = p["leg"]
    layout[leg] = dict(x=lx / W, y=1 - ly / H, xref="paper", yref="paper",
                       xanchor="left", yanchor="top",
                       bgcolor="rgba(255,255,255,0.8)", bordercolor="#cccccc", borderwidth=1,
                       font=dict(family=FONT, size=9.5, style="italic", color="#222222"),
                       itemwidth=30, tracegroupgap=0)
    cx = (x0 + x1) / 2
    layout["annotations"].append(dict(
        text=p["title"], x=cx / W, y=1 - p["title_y"] / H, xref="paper", yref="paper",
        xanchor="center", yanchor="middle", showarrow=False,
        font=dict(family=FONT, size=16.5, color="black")))
    layout["annotations"].append(dict(
        text="# env interactions", x=cx / W, y=1 - p["xlab_y"] / H, xref="paper", yref="paper",
        xanchor="center", yanchor="middle", showarrow=False,
        font=dict(family=FONT, size=13.8, color="black")))
    layout["annotations"].append(dict(
        text="total reward", x=p["ylab_x"] / W, y=1 - ((yt0 + yb0) / 2) / H, xref="paper", yref="paper",
        xanchor="center", yanchor="middle", showarrow=False, textangle=-90,
        font=dict(family=FONT, size=13.8, color="black")))

fig.update_layout(**layout)
fig.write_html("out.html", config={"displayModeBar": False},
               post_script="document.body.style.margin='0';document.body.style.overflow='hidden';")
